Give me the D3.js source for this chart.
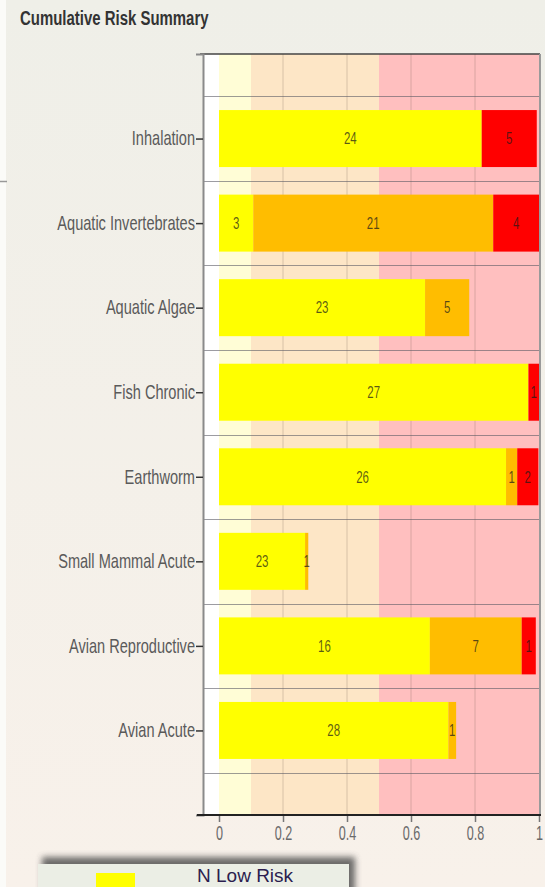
<!DOCTYPE html>
<html>
<head>
<meta charset="utf-8">
<script src="https://cdn.jsdelivr.net/npm/d3@7"></script>
<style>
  html, body { margin: 0; padding: 0; }
  body { width: 545px; height: 887px; overflow: hidden; }
  .sy { transform-box: fill-box; transform-origin: center; }
  .sr { transform-box: fill-box; transform-origin: right center; }
  .sl { transform-box: fill-box; transform-origin: left center; }
</style>
</head>
<body>
<svg id="chart" width="545" height="887"></svg>
<script>
// ---- data ----
const title = "Cumulative Risk Summary";
const categories = ["Inhalation", "Aquatic Invertebrates", "Aquatic Algae", "Fish Chronic",
  "Earthworm", "Small Mammal Acute", "Avian Reproductive", "Avian Acute"];
// counts shown as labels
const lowCounts  = [24, 3, 23, 27, 26, 23, 16, 28];
const medCounts  = [0, 21, 5, 0, 1, 1, 7, 1];
const highCounts = [5, 4, 0, 1, 2, 0, 1, 0];
// fractions (bar lengths)
const lowFrac  = [0.821, 0.107, 0.644, 0.967, 0.897, 0.269, 0.659, 0.717];
const medFrac  = [0, 0.750, 0.138, 0, 0.035, 0.010, 0.287, 0.024];
const highFrac = [0.172, 0.143, 0, 0.033, 0.066, 0, 0.044, 0];
const xTicks = [0, 0.2, 0.4, 0.6, 0.8, 1];
const xTickLabels = ["0", "0.2", "0.4", "0.6", "0.8", "1"];
const zoneStart = [-0.05, 0, 0.1, 0.5];
const zoneEnd   = [0, 0.1, 0.5, 1];
const zoneColors = ["#ffffff", "#fffdd6", "#fde6c6", "#ffbfbf"];
const seriesColors = ["#ffff00", "#ffbd00", "#ff0000"];
const legendLabels = ["N Low Risk"];

const FONT = "'Liberation Sans', Arial, sans-serif";

// ---- layout ----
const svg = d3.select("#chart");
const defs = svg.append("defs");
const grad = defs.append("linearGradient").attr("id", "bg").attr("x1", 0).attr("y1", 0).attr("x2", 0).attr("y2", 1);
grad.append("stop").attr("offset", "0%").attr("stop-color", "#efefe8");
grad.append("stop").attr("offset", "100%").attr("stop-color", "#f8f1ea");
defs.append("filter").attr("id", "blur").attr("x", "-20%").attr("y", "-50%").attr("width", "140%").attr("height", "200%")
  .append("feGaussianBlur").attr("stdDeviation", 3);

svg.append("rect").attr("width", 545).attr("height", 887).attr("fill", "url(#bg)");
svg.append("rect").attr("width", 6).attr("height", 887).attr("fill", "#fbfbf8");

const x = d3.scaleLinear().domain([-0.05, 1]).range([203, 539]);
const y = d3.scaleLinear().domain([0, categories.length + 1]).range([54, 815]);
const barHalf = 0.337;

// title
svg.append("text").attr("class", "sl").attr("x", 20).attr("y", 24)
  .attr("font-family", FONT)
  .attr("font-weight", "bold").attr("font-size", 17).attr("fill", "#333")
  .style("transform", "scale(0.88, 1.15)")
  .text(title);

// zones
const g = svg.append("g");
g.selectAll("rect.zone").data(zoneStart).join("rect").attr("class", "zone")
  .attr("x", (d) => x(d)).attr("width", (d, i) => x(zoneEnd[i]) - x(d))
  .attr("y", y(0)).attr("height", y(categories.length + 1) - y(0))
  .attr("fill", (d, i) => zoneColors[i]);

// vertical grid
g.selectAll("line.vg").data(xTicks.slice(1, -1)).join("line").attr("class", "vg")
  .attr("x1", (d) => x(d)).attr("x2", (d) => x(d))
  .attr("y1", y(0)).attr("y2", y(categories.length + 1))
  .attr("stroke", "rgba(110,90,80,0.22)").attr("stroke-width", 1.2);

// horizontal grid
const hg = d3.range(categories.length + 1).map((i) => i + 0.5);
g.selectAll("line.hg").data(hg).join("line").attr("class", "hg")
  .attr("x1", x(-0.05)).attr("x2", 540)
  .attr("y1", (d) => Math.round(y(d)) + 0.5).attr("y2", (d) => Math.round(y(d)) + 0.5)
  .attr("stroke", "rgba(90,90,100,0.6)").attr("stroke-width", 1);

// stray short line at left edge
svg.append("line").attr("x1", 0).attr("x2", 7).attr("y1", Math.round(y(1.5)) + 0.5).attr("y2", Math.round(y(1.5)) + 0.5)
  .attr("stroke", "#999").attr("stroke-width", 1.5);

// bars
const fracs = [lowFrac, medFrac, highFrac];
const counts = [lowCounts, medCounts, highCounts];
const segs = [];
categories.forEach((c, i) => {
  let start = 0;
  for (let s = 0; s < 3; s++) {
    const f = fracs[s][i];
    if (f > 0) segs.push({ i, s, x0: start, x1: start + f, n: counts[s][i] });
    start += f;
  }
});
g.selectAll("rect.bar").data(segs).join("rect").attr("class", "bar")
  .attr("x", (d) => x(d.x0)).attr("width", (d) => x(d.x1) - x(d.x0))
  .attr("y", (d) => y(d.i + 1 - barHalf)).attr("height", (d) => y(d.i + 1 + barHalf) - y(d.i + 1 - barHalf))
  .attr("fill", (d) => seriesColors[d.s]);

g.selectAll("text.val").data(segs).join("text").attr("class", "val sy")
  .attr("x", (d) => (x(d.x0) + x(d.x1)) / 2).attr("y", (d) => y(d.i + 1))
  .attr("text-anchor", "middle").attr("dominant-baseline", "central")
  .attr("font-family", FONT)
  .attr("font-size", 14).attr("fill", "#1a1a1a").attr("fill-opacity", 0.72)
  .style("transform", "scale(0.82, 1.2)")
  .text((d) => d.n);

// borders
svg.append("line").attr("x1", 200).attr("x2", 540).attr("y1", 54).attr("y2", 54).attr("stroke", "#444").attr("stroke-width", 1.5);
svg.append("line").attr("x1", 540).attr("x2", 540).attr("y1", 54).attr("y2", 815).attr("stroke", "#9a9a9a").attr("stroke-width", 2);

// axes
const yAxis = d3.axisLeft(y).tickValues(categories.map((c, i) => i + 1))
  .tickFormat((d) => categories[d - 1]).tickSize(7).tickPadding(1);
const ya = svg.append("g").attr("transform", `translate(${x(-0.05)},0)`).call(yAxis);
ya.select(".domain").attr("stroke", "#8a8a8a").attr("stroke-width", 2);
ya.selectAll(".tick line").attr("stroke", "#333").attr("stroke-width", 1.5);
ya.selectAll(".tick text").attr("class", "sr")
  .attr("font-family", FONT)
  .attr("font-size", 18).attr("fill", "#5a5a5a").style("transform", "scale(0.81, 1.08)");

const xAxis = d3.axisBottom(x).tickValues(xTicks).tickFormat((d, i) => xTickLabels[i]).tickSize(7).tickPadding(6);
const xa = svg.append("g").attr("transform", "translate(0,815)").call(xAxis);
xa.select(".domain").remove();
xa.append("line").attr("x1", 197).attr("x2", 541).attr("y1", 0).attr("y2", 0).attr("stroke", "#222").attr("stroke-width", 2);
xa.selectAll(".tick line").attr("stroke", "#777").attr("stroke-width", 1.5);
xa.selectAll(".tick text").attr("class", "sy")
  .attr("font-family", FONT)
  .attr("font-size", 14).attr("fill", "#6a6a6a").style("transform", "scale(0.9, 1.45)");

// legend
const lg = svg.append("g");
lg.append("rect").attr("x", 42).attr("y", 857).attr("width", 313).attr("height", 50)
  .attr("fill", "#4a4a4a").attr("filter", "url(#blur)").attr("opacity", 0.8);
lg.append("rect").attr("x", 38).attr("y", 864).attr("width", 311).attr("height", 40).attr("fill", "#ebeee5");
lg.selectAll("rect.sw").data(legendLabels).join("rect").attr("class", "sw")
  .attr("x", 96).attr("y", 873).attr("width", 39).attr("height", 20).attr("fill", seriesColors[0]);
lg.selectAll("text.lt").data(legendLabels).join("text").attr("class", "lt")
  .attr("x", 197).attr("y", 882)
  .attr("font-family", FONT).attr("font-size", 19)
  .attr("fill", "#2b1d4f").text((d) => d);
</script>
</body>
</html>
